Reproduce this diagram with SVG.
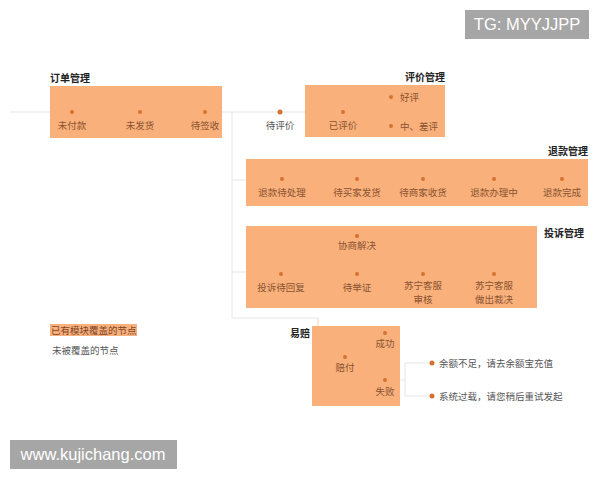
<svg xmlns="http://www.w3.org/2000/svg" width="600" height="480" viewBox="0 0 600 480">
<defs>
<style>
.box{fill:#f9b07b}
.dot{fill:#d6722f}
.t{font-family:"Noto Sans CJK SC","Noto Sans",sans-serif;font-size:9.5px;fill:#8a5330;text-anchor:middle}
.o{font-family:"Noto Sans CJK SC","Noto Sans",sans-serif;font-size:9.5px;fill:#555;text-anchor:middle}
.s{text-anchor:start}
.lg{fill:#7a4528}
.h{font-family:"Noto Sans CJK SC","Noto Sans",sans-serif;font-size:10px;font-weight:bold;fill:#222}
.e{text-anchor:end}
.ln{fill:none;stroke:#e6e6e6;stroke-width:1}
.li{fill:none;stroke:#fcd0ad;stroke-width:1}
.wm{fill:#a6a6a6}
.wt{font-family:"Liberation Sans",Arial,sans-serif;font-size:16.5px;fill:#fff;text-anchor:middle}
</style>
</defs>
<rect width="600" height="480" fill="#fff"/>

<g id="connectors">
<path class="ln" d="M10 112H50M222 112H305M232 112V318H318"/>
<path class="ln" d="M232 180H246M232 272H246"/>
<path class="li" d="M305 112H373M373 97V126M373 97H391M373 126H391"/>
<path class="li" d="M281 236H533V272M281 236V272M246 272H537"/>
<path class="li" d="M318 318V355H345M359 333V380M359 333H385M359 380H385M345 357H359"/>
<path class="ln" d="M400 380H405M405 363V396M405 363H432M405 396H432"/>
</g>

<g id="order">
<text class="h" x="50" y="82">订单管理</text>
<rect class="box" x="50" y="86" width="172" height="52"/>
<circle class="dot" cx="72" cy="112" r="2"/><text class="t" x="72" y="129">未付款</text>
<circle class="dot" cx="140" cy="112" r="2"/><text class="t" x="140" y="129">未发货</text>
<circle class="dot" cx="205" cy="112" r="2"/><text class="t" x="205" y="129">待签收</text>
</g>

<g id="daipingjia">
<circle class="dot" cx="280" cy="112" r="2.5"/><text class="o" x="280" y="129">待评价</text>
</g>

<g id="review">
<text class="h e" x="445" y="81">评价管理</text>
<rect class="box" x="305" y="85" width="140" height="52"/>
<circle class="dot" cx="343" cy="112" r="2"/><text class="t" x="343" y="129">已评价</text>
<circle class="dot" cx="391" cy="97" r="2"/><text class="t s" x="400" y="101">好评</text>
<circle class="dot" cx="391" cy="126" r="2"/><text class="t s" x="400" y="130">中、差评</text>
</g>

<g id="refund">
<text class="h e" x="588" y="155">退款管理</text>
<rect class="box" x="246" y="159" width="342" height="47"/>
<circle class="dot" cx="282" cy="179" r="2"/><text class="t" x="282" y="196">退款待处理</text>
<circle class="dot" cx="357" cy="179" r="2"/><text class="t" x="357" y="196">待买家发货</text>
<circle class="dot" cx="423" cy="179" r="2"/><text class="t" x="423" y="196">待商家收货</text>
<circle class="dot" cx="494" cy="179" r="2"/><text class="t" x="494" y="196">退款办理中</text>
<circle class="dot" cx="562" cy="179" r="2"/><text class="t" x="562" y="196">退款完成</text>
</g>

<g id="complaint">
<text class="h" x="544" y="237">投诉管理</text>
<rect class="box" x="246" y="226" width="291" height="82"/>
<circle class="dot" cx="357" cy="236" r="2"/><text class="t" x="357" y="249">协商解决</text>
<circle class="dot" cx="281" cy="274" r="2"/><text class="t" x="281" y="291">投诉待回复</text>
<circle class="dot" cx="357" cy="274" r="2"/><text class="t" x="357" y="291">待举证</text>
<circle class="dot" cx="423" cy="274" r="2"/><text class="t" x="423" y="289">苏宁客服</text><text class="t" x="423" y="303">审核</text>
<circle class="dot" cx="494" cy="274" r="2"/><text class="t" x="494" y="289">苏宁客服</text><text class="t" x="494" y="303">做出裁决</text>
</g>

<g id="legend">
<rect class="box" x="50" y="324" width="87" height="12"/>
<text class="t s lg" x="51" y="334">已有模块覆盖的节点</text>
<text class="o s" x="52" y="354">未被覆盖的节点</text>
</g>

<g id="yipei">
<text class="h" x="290" y="337">易赔</text>
<rect class="box" x="312" y="326" width="88" height="80"/>
<circle class="dot" cx="345" cy="357" r="2"/><text class="t" x="345" y="371">赔付</text>
<circle class="dot" cx="385" cy="333" r="2"/><text class="t" x="385" y="347">成功</text>
<circle class="dot" cx="385" cy="380" r="2"/><text class="t" x="385" y="395">失败</text>
</g>

<g id="errors">
<circle class="dot" cx="432" cy="363" r="2.5"/><text class="o s" x="439" y="367">余额不足，请去余额宝充值</text>
<circle class="dot" cx="432" cy="396" r="2.5"/><text class="o s" x="439" y="400">系统过载，请您稍后重试发起</text>
</g>

<g id="watermarks">
<rect class="wm" x="465" y="10" width="124" height="29"/>
<text class="wt" x="527" y="30">TG: MYYJJPP</text>
<rect class="wm" x="10" y="440" width="167" height="29"/>
<text class="wt" x="93" y="460">www.kujichang.com</text>
</g>
</svg>
